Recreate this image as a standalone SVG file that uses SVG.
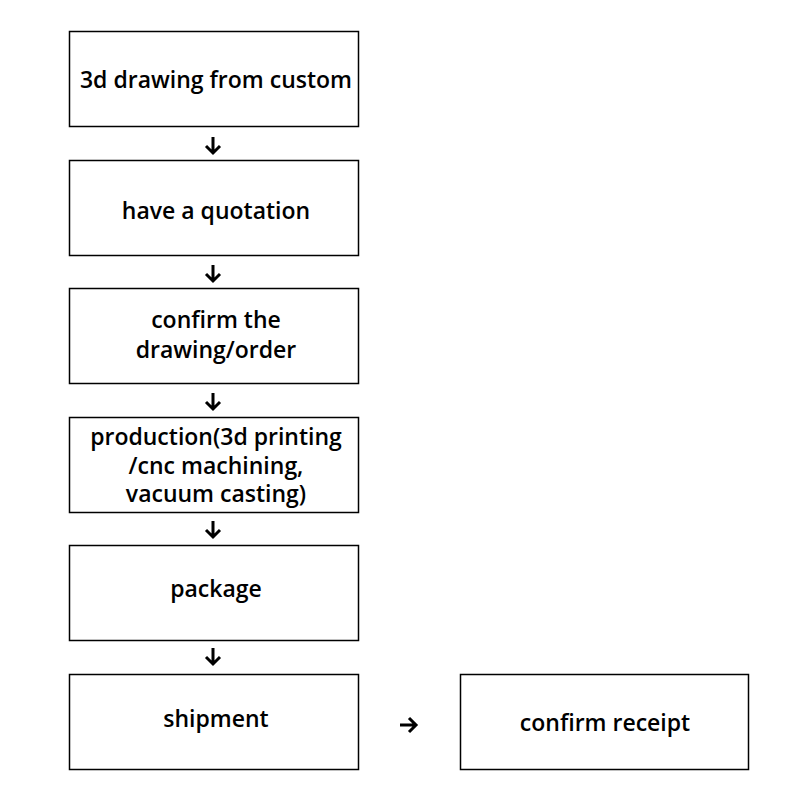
<svg xmlns="http://www.w3.org/2000/svg" width="800" height="800" viewBox="0 0 800 800">
<style>
.box{fill:#fff;stroke:#000;stroke-width:1.5}
.t{font-family:"Open Sans","Noto Sans",sans-serif;font-size:23px;font-weight:600;fill:#000;text-anchor:middle}
.c{fill:none;stroke:#000;stroke-width:3;stroke-linecap:butt}
</style>
<rect width="800" height="800" fill="#fff"/>
<g id="n1"><rect class="box" x="69.5" y="31.5" width="289" height="95"/><text class="t" x="216" y="88">3d drawing from custom</text></g>
<g id="n2"><rect class="box" x="69.5" y="160.5" width="289" height="95"/><text class="t" x="216" y="219">have a quotation</text></g>
<g id="n3"><rect class="box" x="69.5" y="288.5" width="289" height="95"/><text class="t" x="216" y="328">confirm the</text><text class="t" x="216" y="358">drawing/order</text></g>
<g id="n4"><rect class="box" x="69.5" y="417.5" width="289" height="95"/><text class="t" x="216" y="445">production(3d printing</text><text class="t" x="216" y="474">/cnc machining,</text><text class="t" x="216" y="502">vacuum casting)</text></g>
<g id="n5"><rect class="box" x="69.5" y="545.5" width="289" height="95"/><text class="t" x="216" y="597">package</text></g>
<g id="n6"><rect class="box" x="69.5" y="674.5" width="289" height="95"/><text class="t" x="216" y="727">shipment</text></g>
<g id="n7"><rect class="box" x="460.5" y="674.5" width="288" height="95"/><text class="t" x="605" y="731">confirm receipt</text></g>
<g id="connectors">
<path class="c" d="M213 137V153M206 146L213 153L220 146"/>
<path class="c" d="M213 265V281M206 274L213 281L220 274"/>
<path class="c" d="M213 393V409M206 402L213 409L220 402"/>
<path class="c" d="M213 521V537M206 530L213 537L220 530"/>
<path class="c" d="M213 648V664M206 657L213 664L220 657"/>
<path class="c" d="M400 725H416M409 718L416 725L409 732"/>
</g>
</svg>
